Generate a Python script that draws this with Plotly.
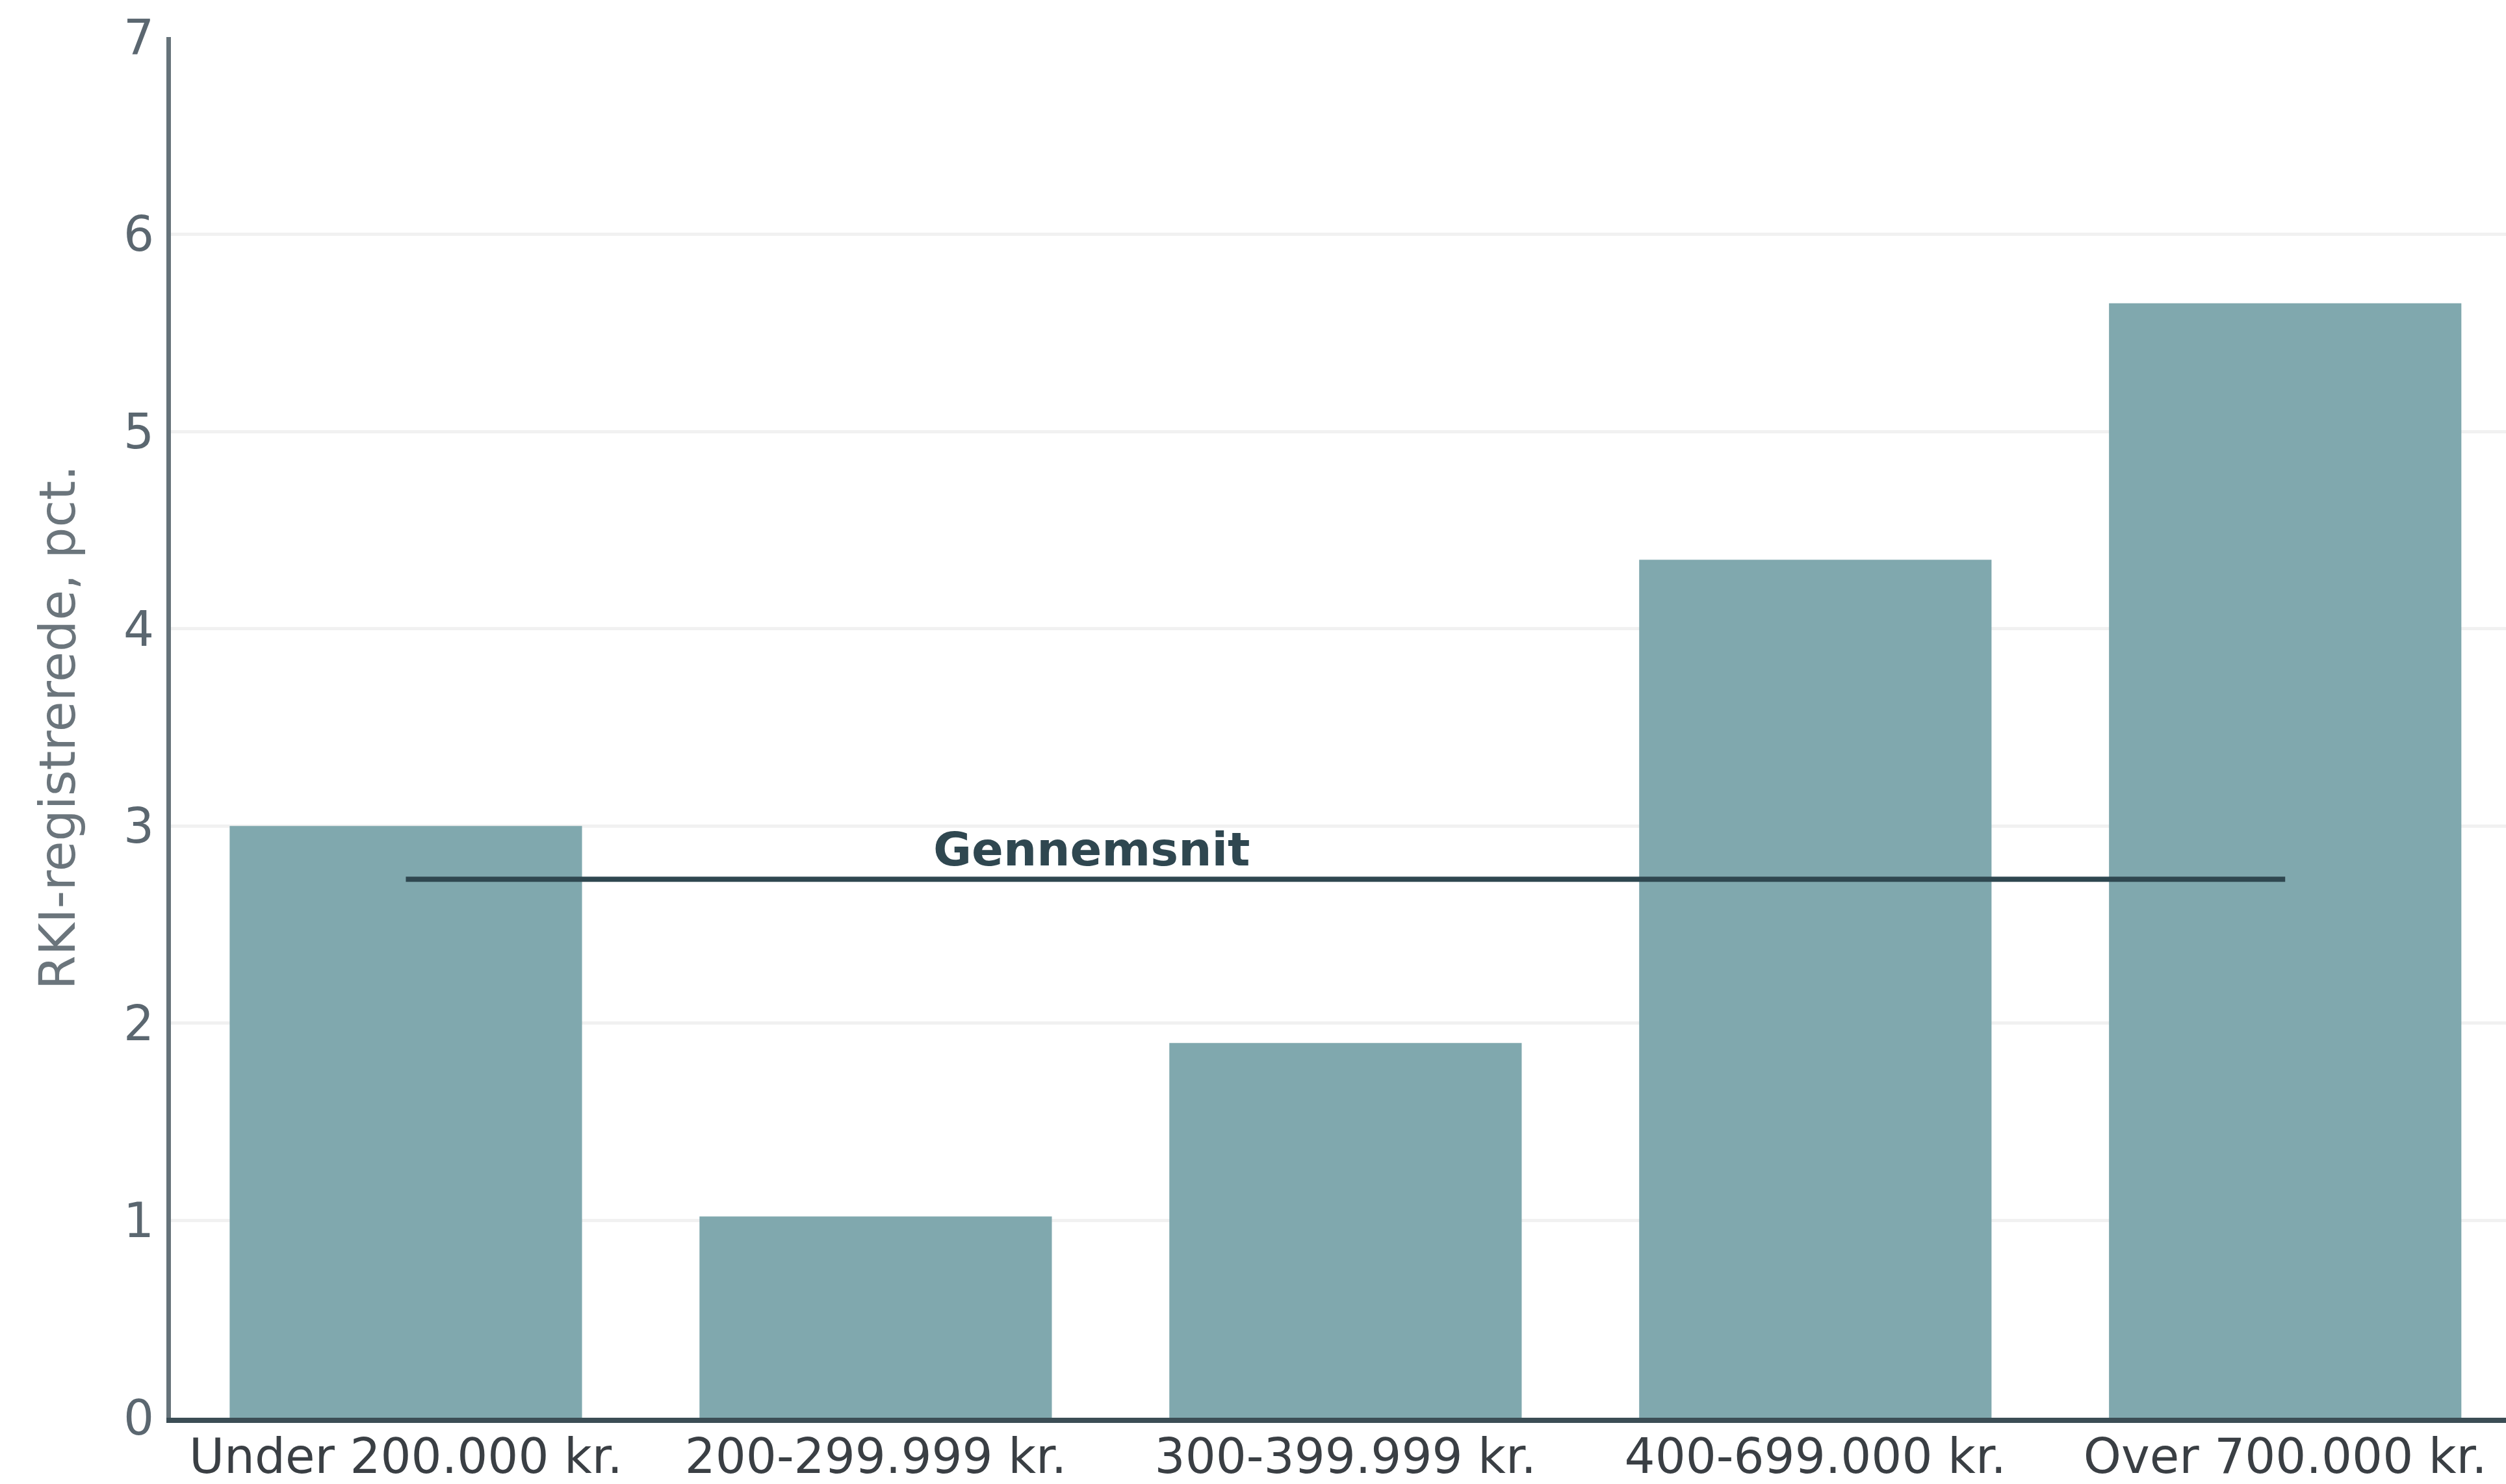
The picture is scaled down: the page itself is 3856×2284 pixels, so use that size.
import plotly.graph_objects as go

# Income groups and share of RKI-registered people (pct.)
categories = ["Under 200.000 kr.", "200-299.999 kr.", "300-399.999 kr.",
              "400-699.000 kr.", "Over 700.000 kr."]
values = [3.0, 1.02, 1.9, 4.35, 5.65]
average = 2.73
average_label = "Gennemsnit"
y_title = "RKI-registrerede, pct."
y_ticks = [0, 1, 2, 3, 4, 5, 6, 7]

BAR_COLOR = "#80a8ae"
LINE_COLOR = "#2f4750"
FONT = "DejaVu Sans"

fig = go.Figure()

fig.add_trace(go.Bar(
    x=categories,
    y=values,
    marker=dict(color=BAR_COLOR, line=dict(width=0)),
    width=0.75,
    showlegend=False,
    hoverinfo="x+y",
))

# Average line spanning from the first to the last category centre
fig.add_trace(go.Scatter(
    x=[categories[0], categories[-1]],
    y=[average, average],
    mode="lines",
    line=dict(color=LINE_COLOR, width=8),
    showlegend=False,
    hoverinfo="y",
))

fig.add_annotation(
    x=1.46, y=average,
    xref="x", yref="y",
    text="<b>" + average_label + "</b>",
    showarrow=False,
    yanchor="bottom",
    yshift=2,
    font=dict(family=FONT, size=72, color=LINE_COLOR),
)

fig.update_layout(
    width=3856,
    height=2284,
    margin=dict(l=263, r=0, t=57, b=102),
    paper_bgcolor="white",
    plot_bgcolor="white",
    font=dict(family=FONT, size=62, color="#5b6770"),
    bargap=0.25,
)

fig.update_xaxes(
    range=[-0.5, 4.47],
    automargin=False,
    showline=True,
    linecolor="#3b4d55",
    linewidth=8,
    showgrid=False,
    ticks="",
    ticklabelstandoff=-12,
    tickfont=dict(family=FONT, size=74, color="#3a3f44"),
)

fig.update_yaxes(
    range=[0, 7],
    automargin=False,
    tickvals=y_ticks,
    showline=True,
    linecolor="#66737a",
    linewidth=7,
    showgrid=True,
    gridcolor="#f1f1f1",
    gridwidth=5,
    zeroline=False,
    ticks="",
    ticklabelstandoff=4,
    tickfont=dict(family=FONT, size=74, color="#5b6770"),
    title=dict(text=y_title, standoff=52,
               font=dict(family=FONT, size=76, color="#6b757c")),
)

fig.write_html("out.html")
